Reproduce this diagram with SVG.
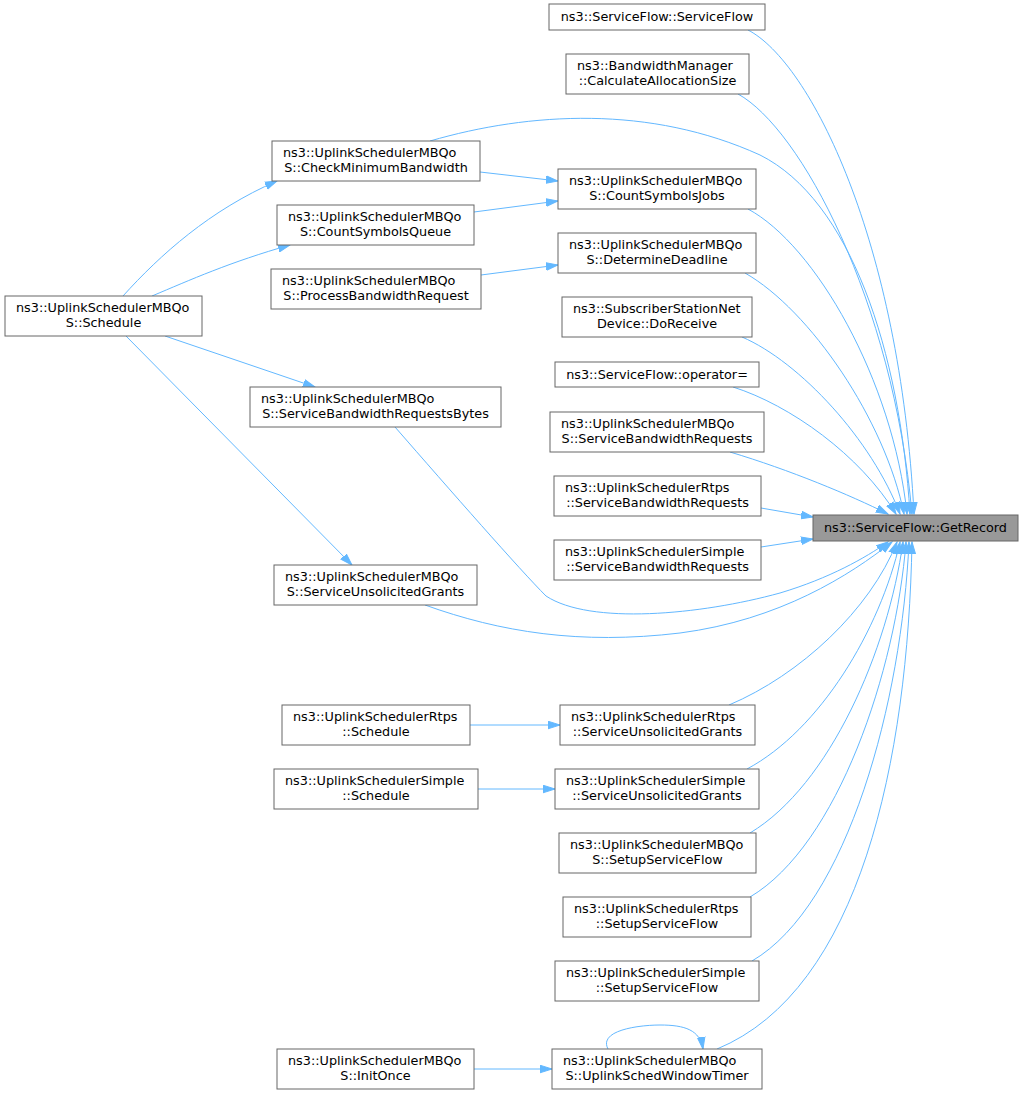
<svg xmlns="http://www.w3.org/2000/svg" width="1024" height="1095" viewBox="0 0 1024 1095">
<style>
.n rect{fill:#ffffff;stroke:#666666;stroke-width:1}
.t rect{fill:#999999;stroke:#666666;stroke-width:1}
text{font-family:"DejaVu Sans","Liberation Sans",sans-serif;font-size:12.8px;fill:#000000}
.s{text-anchor:start}
.m{text-anchor:middle}
#edges path{fill:none;stroke:#63b8ff;stroke-width:1;marker-end:url(#a)}
</style>
<defs>
<marker id="a" markerWidth="13" markerHeight="9" refX="12" refY="4.5" orient="auto" markerUnits="userSpaceOnUse">
<path d="M0,0.7 L12,4.5 L0,8.3 z" fill="#63b8ff" stroke="#63b8ff" stroke-width="1"/>
</marker>
</defs>
<rect width="1024" height="1095" fill="#ffffff"/>
<g id="edges">
<path d="M748,30 C810,62 900,240 914,514"/>
<path d="M738,94 C800,128 893,300 912,514"/>
<path d="M430,141 C530,112 650,105 760,155 C850,200 900,350 910,514"/>
<path d="M748,209 C815,245 893,380 907,514"/>
<path d="M745,273 C810,310 885,420 904,514"/>
<path d="M742,337 C800,362 872,440 900,514"/>
<path d="M733,387 C790,405 860,455 896,514"/>
<path d="M730,452 C790,470 850,495 888,514"/>
<path d="M761,508 L813,517"/>
<path d="M761,547 L813,539"/>
<path d="M395,427 C450,490 520,570 546,596 C590,625 700,615 780,593 C830,578 865,558 888,542"/>
<path d="M425,605 C500,632 580,645 680,633 C780,620 850,575 892,542"/>
<path d="M729,705 C800,675 870,610 897,542"/>
<path d="M747,769 C820,730 880,630 900,542"/>
<path d="M750,833 C830,785 888,650 903,542"/>
<path d="M750,897 C838,845 896,670 906,542"/>
<path d="M752,961 C848,905 902,700 909,542"/>
<path d="M717,1049 C860,990 908,760 912,542"/>
<path d="M608,1049 C598,1030 640,1025 660,1025 C685,1025 700,1030 703,1049"/>
<path d="M123,296 C160,255 210,210 277,181"/>
<path d="M152,296 C190,280 230,262 290,245"/>
<path d="M165,336 L315,387"/>
<path d="M126,336 L352,565"/>
<path d="M480,172 L558,181"/>
<path d="M474,212 L558,201"/>
<path d="M481,275 L558,265"/>
<path d="M470,725 L560,725"/>
<path d="M478,789 L555,789"/>
<path d="M474,1069 L552,1069"/>
</g>
<g id="n0" class="t"><rect x="813" y="515" width="205" height="26"/><text class="m" x="915.5" y="532">ns3::ServiceFlow::GetRecord</text></g>
<g id="n1" class="n"><rect x="549" y="4" width="216" height="26"/><text class="m" x="657" y="21">ns3::ServiceFlow::ServiceFlow</text></g>
<g id="n2" class="n"><rect x="566" y="54" width="183" height="40"/><text class="s" x="577" y="70">ns3::BandwidthManager</text><text class="m" x="657.5" y="85">::CalculateAllocationSize</text></g>
<g id="n3" class="n"><rect x="272" y="141" width="208" height="40"/><text class="s" x="283" y="157">ns3::UplinkSchedulerMBQo</text><text class="m" x="376" y="172">S::CheckMinimumBandwidth</text></g>
<g id="n4" class="n"><rect x="277" y="205" width="197" height="40"/><text class="s" x="288" y="221">ns3::UplinkSchedulerMBQo</text><text class="m" x="375.5" y="236">S::CountSymbolsQueue</text></g>
<g id="n5" class="n"><rect x="271" y="269" width="210" height="40"/><text class="s" x="282" y="285">ns3::UplinkSchedulerMBQo</text><text class="m" x="376" y="300">S::ProcessBandwidthRequest</text></g>
<g id="n6" class="n"><rect x="558" y="169" width="198" height="40"/><text class="s" x="569" y="185">ns3::UplinkSchedulerMBQo</text><text class="m" x="657" y="200">S::CountSymbolsJobs</text></g>
<g id="n7" class="n"><rect x="558" y="233" width="198" height="40"/><text class="s" x="569" y="249">ns3::UplinkSchedulerMBQo</text><text class="m" x="657" y="264">S::DetermineDeadline</text></g>
<g id="n8" class="n"><rect x="5" y="296" width="197" height="40"/><text class="s" x="16" y="312">ns3::UplinkSchedulerMBQo</text><text class="m" x="103.5" y="327">S::Schedule</text></g>
<g id="n9" class="n"><rect x="562" y="297" width="190" height="40"/><text class="s" x="573" y="313">ns3::SubscriberStationNet</text><text class="m" x="657" y="328">Device::DoReceive</text></g>
<g id="n10" class="n"><rect x="555" y="362" width="204" height="25"/><text class="m" x="657" y="379">ns3::ServiceFlow::operator=</text></g>
<g id="n11" class="n"><rect x="250" y="387" width="251" height="40"/><text class="s" x="261" y="403">ns3::UplinkSchedulerMBQo</text><text class="m" x="375.5" y="418">S::ServiceBandwidthRequestsBytes</text></g>
<g id="n12" class="n"><rect x="550" y="412" width="214" height="40"/><text class="s" x="561" y="428">ns3::UplinkSchedulerMBQo</text><text class="m" x="657" y="443">S::ServiceBandwidthRequests</text></g>
<g id="n13" class="n"><rect x="554" y="476" width="207" height="40"/><text class="s" x="565" y="492">ns3::UplinkSchedulerRtps</text><text class="m" x="657.5" y="507">::ServiceBandwidthRequests</text></g>
<g id="n14" class="n"><rect x="554" y="540" width="207" height="40"/><text class="s" x="565" y="556">ns3::UplinkSchedulerSimple</text><text class="m" x="657.5" y="571">::ServiceBandwidthRequests</text></g>
<g id="n15" class="n"><rect x="274" y="565" width="203" height="40"/><text class="s" x="285" y="581">ns3::UplinkSchedulerMBQo</text><text class="m" x="375.5" y="596">S::ServiceUnsolicitedGrants</text></g>
<g id="n16" class="n"><rect x="282" y="705" width="188" height="40"/><text class="s" x="293" y="721">ns3::UplinkSchedulerRtps</text><text class="m" x="376" y="736">::Schedule</text></g>
<g id="n17" class="n"><rect x="560" y="705" width="195" height="40"/><text class="s" x="571" y="721">ns3::UplinkSchedulerRtps</text><text class="m" x="657.5" y="736">::ServiceUnsolicitedGrants</text></g>
<g id="n18" class="n"><rect x="274" y="769" width="204" height="40"/><text class="s" x="285" y="785">ns3::UplinkSchedulerSimple</text><text class="m" x="376" y="800">::Schedule</text></g>
<g id="n19" class="n"><rect x="555" y="769" width="204" height="40"/><text class="s" x="566" y="785">ns3::UplinkSchedulerSimple</text><text class="m" x="657" y="800">::ServiceUnsolicitedGrants</text></g>
<g id="n20" class="n"><rect x="559" y="833" width="197" height="40"/><text class="s" x="570" y="849">ns3::UplinkSchedulerMBQo</text><text class="m" x="657.5" y="864">S::SetupServiceFlow</text></g>
<g id="n21" class="n"><rect x="563" y="897" width="188" height="40"/><text class="s" x="574" y="913">ns3::UplinkSchedulerRtps</text><text class="m" x="657" y="928">::SetupServiceFlow</text></g>
<g id="n22" class="n"><rect x="555" y="961" width="204" height="40"/><text class="s" x="566" y="977">ns3::UplinkSchedulerSimple</text><text class="m" x="657" y="992">::SetupServiceFlow</text></g>
<g id="n23" class="n"><rect x="277" y="1049" width="197" height="40"/><text class="s" x="288" y="1065">ns3::UplinkSchedulerMBQo</text><text class="m" x="375.5" y="1080">S::InitOnce</text></g>
<g id="n24" class="n"><rect x="552" y="1049" width="210" height="40"/><text class="s" x="563" y="1065">ns3::UplinkSchedulerMBQo</text><text class="m" x="657" y="1080">S::UplinkSchedWindowTimer</text></g>
</svg>
